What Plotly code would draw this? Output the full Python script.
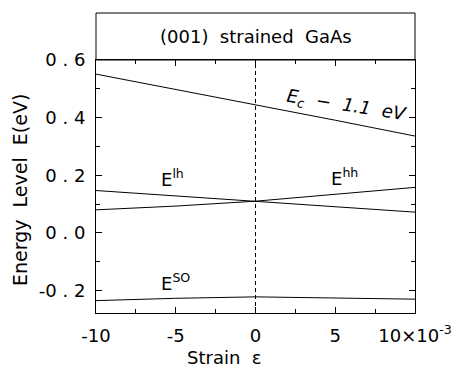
import plotly.graph_objects as go

strain = [-10, -5, 0, 5, 10]
ec_minus = [0.551, 0.498, 0.446, 0.391, 0.336]
e_lh = [0.147, 0.128, 0.110, 0.091, 0.072]
e_hh = [0.080, 0.093, 0.110, 0.134, 0.158]
e_so = [-0.235, -0.227, -0.222, -0.225, -0.230]

ytick_vals = [-0.2, 0.0, 0.2, 0.4, 0.6]
ytick_text = ["-0 . 2", "0 . 0", "0 . 2", "0 . 4", "0 . 6"]
xtick_vals = [-10, -5, 0, 5, 10]
xtick_text = ["-10", "-5", "0", "5", "10×10<sup>-3</sup>"]

FONT = "DejaVu Sans"
fig = go.Figure()
for ys in (ec_minus, e_lh, e_hh, e_so):
    fig.add_trace(go.Scatter(x=strain, y=ys, mode="lines",
                             line=dict(color="black", width=1), showlegend=False,
                             hoverinfo="skip"))

DOM_TOP = 253 / 300
fig.update_layout(
    width=454, height=369,
    margin=dict(l=96, r=39, t=13, b=56),
    paper_bgcolor="white", plot_bgcolor="white",
    font=dict(family=FONT, size=17, color="black"),
    xaxis=dict(range=[-10, 10], tickvals=xtick_vals, ticktext=xtick_text,
               ticks="inside", ticklen=6, tickcolor="black", mirror="ticks",
               showline=True, linecolor="black", linewidth=1, showgrid=False,
               zeroline=False, ticklabelstandoff=6, automargin=False,
               minor=dict(dtick=2.5, ticks="inside", ticklen=4, tickcolor="black"),
               tickfont=dict(size=18)),
    yaxis=dict(range=[-0.278, 0.6], domain=[0, DOM_TOP], tickvals=ytick_vals,
               ticktext=ytick_text, ticks="inside", ticklen=6, tickcolor="black",
               mirror="ticks", showline=True, linecolor="black", linewidth=1,
               showgrid=False, zeroline=False, ticklabelstandoff=6, automargin=False,
               minor=dict(dtick=0.1, ticks="inside", ticklen=4, tickcolor="black"),
               tickfont=dict(size=18)),
)

# dashed vertical line at zero strain
fig.add_shape(type="line", xref="x", yref="y", x0=0, x1=0, y0=-0.278, y1=0.6,
              line=dict(color="black", width=1, dash="4px,3px"))
# title box
fig.add_shape(type="rect", xref="paper", yref="paper", x0=0, x1=1, y0=DOM_TOP, y1=1,
              line=dict(color="black", width=1))
fig.add_annotation(xref="paper", yref="paper", x=0.5, y=(DOM_TOP + 1) / 2,
                   text="(001)  strained  GaAs", showarrow=False,
                   font=dict(size=18), xanchor="center", yanchor="middle")

fig.add_annotation(xref="x", yref="y", x=5.7, y=0.442, text="<i>E<sub>c</sub>  −  1.1  eV</i>",
                   showarrow=False, textangle=9, font=dict(size=18))
fig.add_annotation(xref="x", yref="y", x=-5.2, y=0.192, text="E<sup>lh</sup>",
                   showarrow=False, font=dict(size=18))
fig.add_annotation(xref="x", yref="y", x=5.6, y=0.195, text="E<sup>hh</sup>",
                   showarrow=False, font=dict(size=18))
fig.add_annotation(xref="x", yref="y", x=-5.0, y=-0.172, text="E<sup>SO</sup>",
                   showarrow=False, font=dict(size=18))

# axis titles
fig.add_annotation(xref="paper", yref="paper", x=(224 - 96) / 319, y=-44 / 300,
                   text="Strain  ε", showarrow=False, font=dict(size=18),
                   xanchor="center", yanchor="middle")
fig.add_annotation(xref="paper", yref="paper", x=-76 / 319, y=(369 - 56 - 190) / 300,
                   text="Energy  Level  E(eV)", showarrow=False, textangle=-90,
                   font=dict(size=19), xanchor="center", yanchor="middle")

fig.write_html("out.html")
